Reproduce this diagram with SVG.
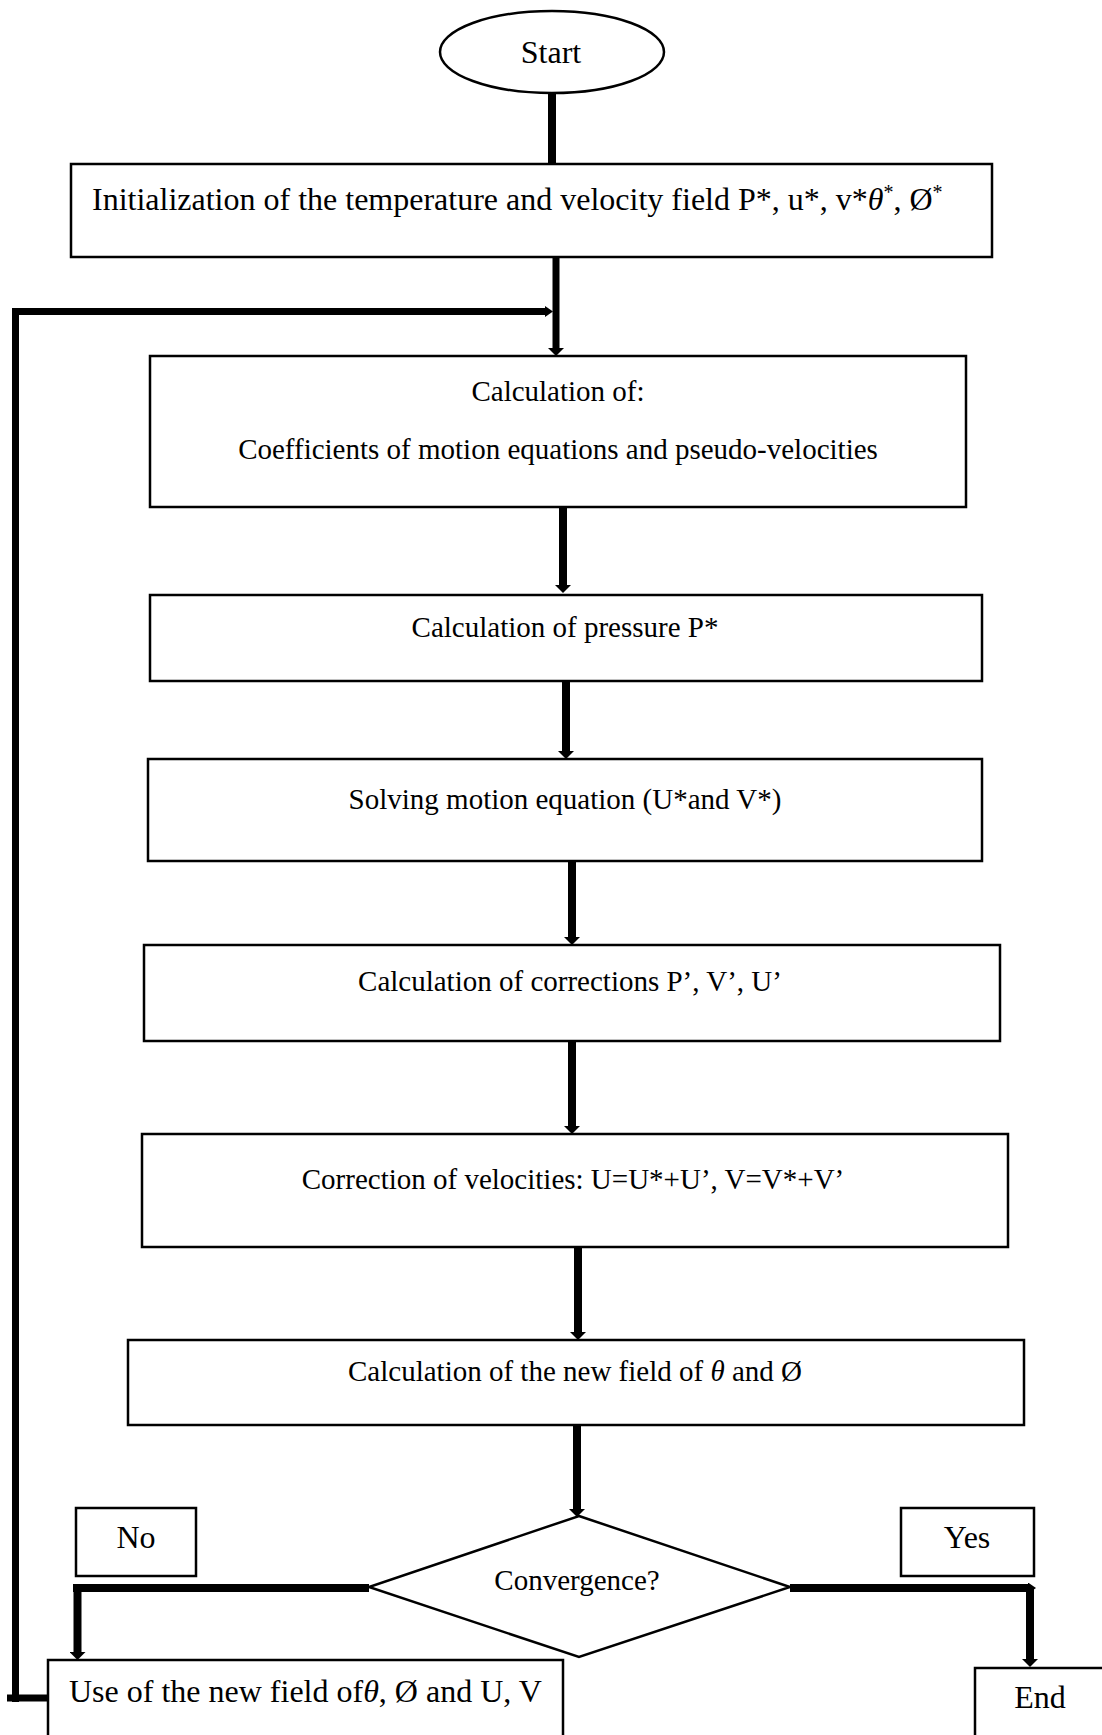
<svg xmlns="http://www.w3.org/2000/svg" width="1102" height="1735" viewBox="0 0 1102 1735">
<style>
  text { font-family: "Liberation Serif", "Times New Roman", serif; font-size: 29px; fill: #000; }
  .big { font-size: 32px; }
  .box { fill: #fff; stroke: #000; stroke-width: 2.5; }
  .c { text-anchor: middle; }
  .line { fill: none; stroke: #000; stroke-width: 8; stroke-linecap: butt; }
  .loop { fill: none; stroke: #000; stroke-width: 7; stroke-linecap: butt; }
  .sup { font-size: 20px; }
  .it { font-style: italic; }
</style>
<defs>
  <marker id="ah" markerUnits="userSpaceOnUse" markerWidth="8" markerHeight="16" viewBox="0 0 8 16" refX="0" refY="8" orient="auto">
    <path d="M0,0 L8,8 L0,16 z" fill="#000"/>
  </marker>
  <marker id="ahs" markerUnits="userSpaceOnUse" markerWidth="8" markerHeight="11" viewBox="0 0 8 11" refX="0" refY="5.5" orient="auto">
    <path d="M0,0 L8,5.5 L0,11 z" fill="#000"/>
  </marker>
</defs>
<rect width="1102" height="1735" fill="#fff"/>

<g id="connectors">
  <path class="line" d="M552,91 L552,165"/>
  <path class="loop" d="M556,258 L556,348" marker-end="url(#ah)"/>
  <path class="loop" d="M15.5,1702 L15.5,311.5 L545,311.5" marker-end="url(#ahs)"/>
  <path class="loop" d="M7,1698 L48,1698"/>
  <path class="line" d="M563,507 L563,585" marker-end="url(#ah)"/>
  <path class="line" d="M566,681 L566,751" marker-end="url(#ah)"/>
  <path class="line" d="M572,861 L572,937" marker-end="url(#ah)"/>
  <path class="line" d="M572,1041 L572,1126" marker-end="url(#ah)"/>
  <path class="line" d="M578,1247 L578,1332" marker-end="url(#ah)"/>
  <path class="line" d="M577,1425 L577,1509" marker-end="url(#ah)"/>
  <path class="line" d="M369,1588 L73,1588"/>
  <path class="line" d="M77.5,1584 L77.5,1652" marker-end="url(#ah)"/>
  <path class="line" d="M790,1588 L1028,1588" marker-end="url(#ahs)"/>
  <path class="line" d="M1030,1588 L1030,1659" marker-end="url(#ah)"/>
</g>

<g id="start">
  <ellipse cx="552" cy="52" rx="112" ry="41" fill="#fff" stroke="#000" stroke-width="2.5"/>
  <text class="c big" x="551" y="63">Start</text>
</g>

<g id="init">
  <rect class="box" x="71" y="164" width="921" height="93"/>
  <text class="big" x="92" y="210">Initialization of the temperature and velocity field P*, u*, v*<tspan class="it">θ</tspan><tspan class="sup" dy="-11">*</tspan><tspan dy="11">, Ø</tspan><tspan class="sup" dy="-11">*</tspan></text>
</g>

<g id="calc-coeff">
  <rect class="box" x="150" y="356" width="816" height="151"/>
  <text class="c" x="558" y="401">Calculation of:</text>
  <text class="c" x="558" y="459">Coefficients of motion equations and pseudo-velocities</text>
</g>

<g id="calc-pressure">
  <rect class="box" x="150" y="595" width="832" height="86"/>
  <text class="c" x="565" y="637">Calculation of pressure P*</text>
</g>

<g id="solve-motion">
  <rect class="box" x="148" y="759" width="834" height="102"/>
  <text class="c" x="565" y="809">Solving motion equation (U*and V*)</text>
</g>

<g id="corrections">
  <rect class="box" x="144" y="945" width="856" height="96"/>
  <text class="c" x="570" y="991">Calculation of corrections P’, V’, U’</text>
</g>

<g id="correct-velocities">
  <rect class="box" x="142" y="1134" width="866" height="113"/>
  <text class="c" x="573" y="1189">Correction of velocities: U=U*+U’, V=V*+V’</text>
</g>

<g id="new-field">
  <rect class="box" x="128" y="1340" width="896" height="85"/>
  <text class="c" x="575" y="1381">Calculation of the new field of <tspan class="it">θ</tspan> and Ø</text>
</g>

<g id="convergence">
  <path class="box" d="M579,1516 L790,1587 L579,1657 L369,1587 z"/>
  <text class="c" x="577" y="1590">Convergence?</text>
</g>

<g id="no-label">
  <rect class="box" x="76" y="1508" width="120" height="68"/>
  <text class="c big" x="136" y="1548">No</text>
</g>

<g id="yes-label">
  <rect class="box" x="901" y="1508" width="133" height="68"/>
  <text class="c big" x="967" y="1548">Yes</text>
</g>

<g id="use-new-field">
  <rect class="box" x="48" y="1660" width="515" height="90"/>
  <text class="big" x="69" y="1702">Use of the new field of<tspan class="it">θ</tspan>, Ø and U, V</text>
</g>

<g id="end">
  <rect class="box" x="975" y="1668" width="140" height="90"/>
  <text class="c big" x="1040" y="1708">End</text>
</g>
</svg>
